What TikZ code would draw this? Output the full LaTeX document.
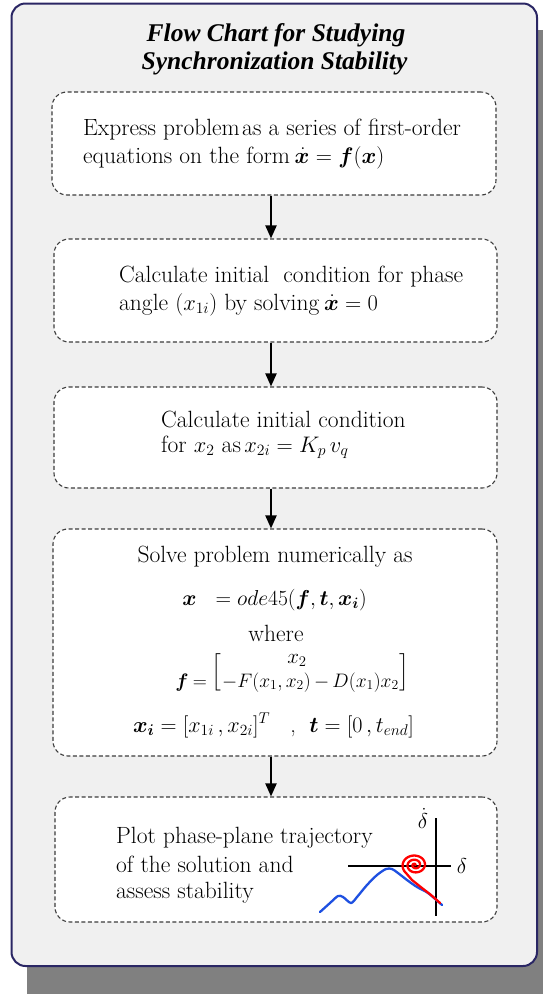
\RequirePackage{fix-cm}
\documentclass[tikz,border=0pt]{standalone}
\usepackage{fontspec}
\usepackage{amsmath,bm}
\usetikzlibrary{arrows.meta}
\newfontfamily\titlefont{Liberation Serif}
\definecolor{panelfill}{RGB}{240,240,240}
\definecolor{shadowgray}{RGB}{128,128,128}
\definecolor{navy}{RGB}{42,38,100}
\definecolor{boxline}{RGB}{60,60,60}
\definecolor{trajblue}{RGB}{30,80,225}
\newcommand{\lbrk}{\raisebox{10pt}{$\left[\vrule height 24pt depth 13pt width 0pt\right.$}}
\newcommand{\rbrk}{\raisebox{10pt}{$\left.\vrule height 24pt depth 13pt width 0pt\right]$}}
\newcommand{\sm}[1]{{\fontsize{22.5}{28}\selectfont$#1$}}
\begin{document}
\begin{tikzpicture}[x=1pt,y=-1pt,
  stepbox/.style={draw=boxline, dash pattern=on 4pt off 2.5pt, line width=1.1pt,
    rounded corners=15pt, fill=white, inner sep=0pt},
  txt/.style={inner sep=0pt, anchor=base west, font=\fontsize{23.5}{28}\selectfont},
  ctxt/.style={inner sep=0pt, anchor=base, font=\fontsize{23.5}{28}\selectfont},
  mtxt/.style={inner sep=0pt, anchor=base, font=\fontsize{#1}{26}\selectfont},
  titletxt/.style={inner sep=0pt, anchor=base, font=\titlefont\bfseries\itshape\fontsize{25.5}{28}\selectfont},
  arr/.style={line width=2pt, -{Triangle[length=13pt,width=11pt]}},
  axisline/.style={line width=1.3pt, black},
  ]
\useasboundingbox (0,0) rectangle (543,994);
% shadow and panel
\fill[shadowgray, rounded corners=14pt] (27,30) rectangle (570,1020);
\draw[fill=panelfill, draw=navy, line width=2pt, rounded corners=14pt] (11.5,3.5) rectangle (537,966);

% title
\node[titletxt] (t1) at (276,41) {Flow Chart for Studying};
\node[titletxt] (t2) at (274.5,69) {Synchronization Stability};

% boxes
\node[stepbox, minimum width=444pt, minimum height=103pt] (b1) at (274,143.5) {};
\node[stepbox, minimum width=443pt, minimum height=103pt] (b2) at (275.5,290.5) {};
\node[stepbox, minimum width=443pt, minimum height=101pt] (b3) at (275.5,437.5) {};
\node[stepbox, minimum width=444pt, minimum height=227pt] (b4) at (275,642.5) {};
\node[stepbox, minimum width=442pt, minimum height=125pt] (b5) at (276,859.5) {};

% arrows
\coordinate (ax) at (271,0);
\draw[arr] (b1.south -| ax) -- (b2.north -| ax);
\draw[arr] (b2.south -| ax) -- (b3.north -| ax);
\draw[arr] (b3.south -| ax) -- (b4.north -| ax);
\draw[arr] (b4.south -| ax) -- (b5.north -| ax);

% box 1
\node[txt] (l11) at (83,135) {Express problem\hspace{0.1em}as a series of first-order};
\node[txt] (l12) at (83,163) {equations on the form\hspace{0.2em}\sm{\dot{\boldsymbol{x}} = \boldsymbol{f}(\boldsymbol{x})}};
% box 2
\node[txt] (l21) at (119,282) {Calculate initial\hspace{0.6em}condition for phase};
\node[txt] (l22) at (119,310) {angle \sm{(x_{1i})} by solving\hspace{0.2em}\sm{\dot{\boldsymbol{x}} = 0}};
% box 3
\node[txt] (l31) at (161,427) {Calculate initial condition};
\node[txt] (l32) at (161,452) {for \sm{x_2} as\hspace{0.15em}\sm{x_{2i} = K_p\,v_q}};
% box 4
\node[ctxt] (l41) at (275,562) {Solve problem numerically as};
\node[mtxt=21.6] (l42) at (274.5,605) {$\boldsymbol{x}\ \ = ode45(\boldsymbol{f},\boldsymbol{t},\boldsymbol{x}_{\boldsymbol{i}})$};
\node[ctxt] (l43) at (276,641) {where};
\node[mtxt=21] (l44) at (297,663) {$x_2$};
\node[mtxt=19.5] (l45) at (292.5,687) {\medmuskip=3mu\thickmuskip=4mu$\boldsymbol{f} = \lbrk{-F}(x_1,x_2) - D(x_1)x_2\rbrk$};
\node[mtxt=22.2] (l46) at (273.5,732) {$\boldsymbol{x}_{\boldsymbol{i}} = [x_{1i}\,,x_{2i}]^T$\ \ \ ,\ \ $\boldsymbol{t} = [0\,, t_{end}]$};
% box 5
\node[txt] (l51) at (116,843) {Plot phase-plane trajectory};
\node[txt] (l52) at (116,872) {of the solution and};
\node[txt] (l53) at (116,898) {assess stability};

% phase plane sketch
\draw[axisline] (436,818) -- (436,916);
\draw[axisline] (348,866) -- (451,866);
\node[mtxt=21.5] (dd) at (423,828) {$\dot\delta$};
\node[mtxt=21.5] (d) at (462,873) {$\delta$};
\draw[trajblue, line width=2.3pt, line join=round, line cap=round]
  plot[smooth, tension=0.5] coordinates {(320,912) (330,903) (338,896) (343,897) (351,903)
  (357,897) (367,885) (377,875) (386,869) (392,869) (398,873) (407,880) (417,887)
  (428,893) (442,905)};
\draw[red, line width=2.3pt, line join=round, line cap=round]
  plot[domain=0:945, samples=160, smooth, variable=\t]
  ({415+13*\t/945*cos(\t)}, {865-11*\t/945*sin(\t)})
  -- plot[smooth] coordinates {(412,880) (422,888) (431,895) (440,903)};
\end{tikzpicture}
\end{document}
